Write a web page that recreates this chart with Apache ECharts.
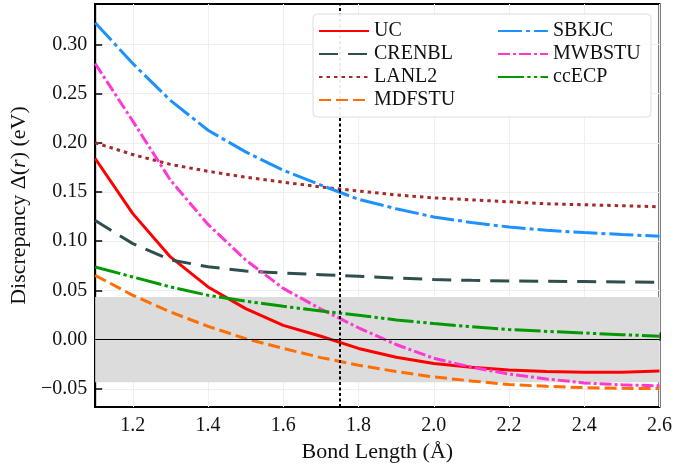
<!DOCTYPE html>
<html>
<head>
<meta charset="utf-8">
<script src="https://cdn.jsdelivr.net/npm/echarts@6/dist/echarts.min.js"></script>
<style>html,body{margin:0;padding:0;background:#fff;}#c{width:675px;height:468px;}</style>
</head>
<body>
<div id="c"></div>
<script>
// ---- data ----
const bondLengths = [1.1, 1.2, 1.3, 1.4, 1.5, 1.6, 1.7, 1.8, 1.9, 2.0, 2.1, 2.2, 2.3, 2.4, 2.5, 2.6];
const UC     = [0.184, 0.128, 0.084, 0.0535, 0.0315, 0.0145, 0.0034, -0.009, -0.018, -0.0244, -0.028, -0.031, -0.0325, -0.0332, -0.0332, -0.032];
const CRENBL = [0.121, 0.0975, 0.081, 0.074, 0.0697, 0.0677, 0.066, 0.0643, 0.0625, 0.061, 0.0602, 0.0596, 0.0593, 0.059, 0.0586, 0.0582];
const LANL2  = [0.200, 0.188, 0.178, 0.171, 0.165, 0.160, 0.155, 0.151, 0.147, 0.144, 0.142, 0.140, 0.138, 0.137, 0.136, 0.135];
const MDFSTU = [0.0653, 0.045, 0.028, 0.0135, 0.001, -0.009, -0.0183, -0.026, -0.0325, -0.038, -0.042, -0.0457, -0.0475, -0.0488, -0.0495, -0.0498];
const SBKJC  = [0.322, 0.2805, 0.243, 0.2127, 0.1907, 0.172, 0.157, 0.1425, 0.133, 0.1246, 0.119, 0.1144, 0.111, 0.1087, 0.1068, 0.105];
const MWBSTU = [0.2805, 0.222, 0.162, 0.117, 0.081, 0.052, 0.031, 0.012, -0.005, -0.019, -0.028, -0.035, -0.040, -0.044, -0.046, -0.047];
const ccECP  = [0.0738, 0.0636, 0.0535, 0.045, 0.039, 0.0338, 0.029, 0.0247, 0.020, 0.0163, 0.013, 0.0102, 0.0083, 0.0067, 0.005, 0.0034];
const xTicks = [1.2, 1.4, 1.6, 1.8, 2.0, 2.2, 2.4, 2.6];
const yTicks = [-0.05, 0.0, 0.05, 0.10, 0.15, 0.20, 0.25, 0.30];
const xRange = [1.1, 2.6];
const yRange = [-0.0685, 0.341];
const chemAccuracy = 0.0434;   // shaded band half-width (eV)
const refBond = 1.75;          // vertical dotted reference line

const FONT = '"Liberation Serif", "DejaVu Serif", serif';

const seriesDefs = [
  {name: 'UC',     data: UC,     color: '#ff0000', type: 'solid'},
  {name: 'CRENBL', data: CRENBL, color: '#2f4f4f', type: [19, 10]},
  {name: 'LANL2',  data: LANL2,  color: '#a52a2a', type: [3.5, 4]},
  {name: 'MDFSTU', data: MDFSTU, color: '#ff6e00', type: [12, 5]},
  {name: 'SBKJC',  data: SBKJC,  color: '#1e90ff', type: [24, 4, 4, 4]},
  {name: 'MWBSTU', data: MWBSTU, color: '#ff38d4', type: [12, 3, 3, 3]},
  {name: 'ccECP',  data: ccECP,  color: '#009a00', type: [26, 3.3, 3.3, 3.3, 3.3, 3.3]}
];

const series = seriesDefs.map(d => ({
  name: d.name,
  type: 'line',
  data: bondLengths.map((x, i) => [x, d.data[i]]),
  showSymbol: false,
  symbol: 'none',
  smooth: false,
  z: 3,
  color: d.color,
  itemStyle: {color: d.color},
  lineStyle: {color: d.color, width: 3, type: d.type},
  emphasis: {disabled: true}
}));

series.push({
  name: 'band', type: 'line', data: [], z: 1, silent: true,
  markArea: {silent: true, itemStyle: {color: '#dcdcdc'},
    data: [[{yAxis: -chemAccuracy}, {yAxis: chemAccuracy}]]},
  markLine: {silent: true, symbol: 'none', label: {show: false},
    lineStyle: {color: '#000', width: 1.2, type: 'solid'},
    data: [{yAxis: 0}]}
});
series.push({
  name: 'ref', type: 'line', data: [], z: 5, silent: true,
  markLine: {silent: true, symbol: 'none', label: {show: false},
    lineStyle: {color: '#000', width: 2, type: [3, 2.5]},
    data: [{xAxis: refBond}]}
});

const fmt = v => {
  const s = Math.abs(v).toFixed(2);
  return v < -1e-9 ? '\u2212' + s : s;
};

const legendCommon = {
  orient: 'vertical', itemWidth: 50, itemHeight: 14, itemGap: 3, z: 20, padding: 0,
  itemStyle: {opacity: 0},
  textStyle: {fontFamily: FONT, fontSize: 20, color: '#111', lineHeight: 20},
  selectedMode: false
};

const option = {
  animation: false,
  backgroundColor: '#fff',
  grid: {left: 94, right: 14, top: 4, bottom: 61, show: true, borderColor: '#000', borderWidth: 2, backgroundColor: 'transparent'},
  xAxis: {
    type: 'value', min: xRange[0], max: xRange[1],
    name: 'Bond Length (\u00c5)', nameLocation: 'middle', nameGap: 28,
    nameTextStyle: {fontFamily: FONT, fontSize: 22, color: '#111'},
    axisLine: {show: true, lineStyle: {color: '#000', width: 2}},
    axisTick: {show: true, inside: true, length: 7, customValues: xTicks, lineStyle: {color: '#000', width: 1.5}},
    axisLabel: {customValues: xTicks, margin: 9, fontFamily: FONT, fontSize: 20, color: '#111', formatter: v => v.toFixed(1)},
    splitLine: {show: true, lineStyle: {color: '#efefef', width: 1}}
  },
  yAxis: {
    type: 'value', min: yRange[0], max: yRange[1],
    name: 'Discrepancy \u0394({i|r}) (eV)', nameLocation: 'middle', nameGap: 62, nameRotate: 90,
    nameTextStyle: {fontFamily: FONT, fontSize: 22, color: '#111',
      rich: {i: {fontFamily: FONT, fontSize: 22, fontStyle: 'italic', color: '#111'}}},
    axisLine: {show: true, lineStyle: {color: '#000', width: 2}},
    axisTick: {show: true, inside: true, length: 7, customValues: yTicks, lineStyle: {color: '#000', width: 1.5}},
    axisLabel: {customValues: yTicks, margin: 8, fontFamily: FONT, fontSize: 20, color: '#111', formatter: fmt},
    splitLine: {show: true, lineStyle: {color: '#efefef', width: 1}}
  },
  legend: [
    Object.assign({}, legendCommon, {left: 318, top: 21, data: ['UC', 'CRENBL', 'LANL2', 'MDFSTU']}),
    Object.assign({}, legendCommon, {left: 497, top: 21, data: ['SBKJC', 'MWBSTU', 'ccECP']})
  ],
  graphic: [{
    type: 'rect', z: 15, silent: true,
    shape: {x: 313, y: 14, width: 338, height: 103, r: 4},
    style: {fill: 'rgba(255,255,255,0.92)', stroke: '#dddddd', lineWidth: 1}
  }],
  series: series
};

const chart = echarts.init(document.getElementById('c'), null, {renderer: 'canvas'});
chart.setOption(option);
</script>
</body>
</html>
